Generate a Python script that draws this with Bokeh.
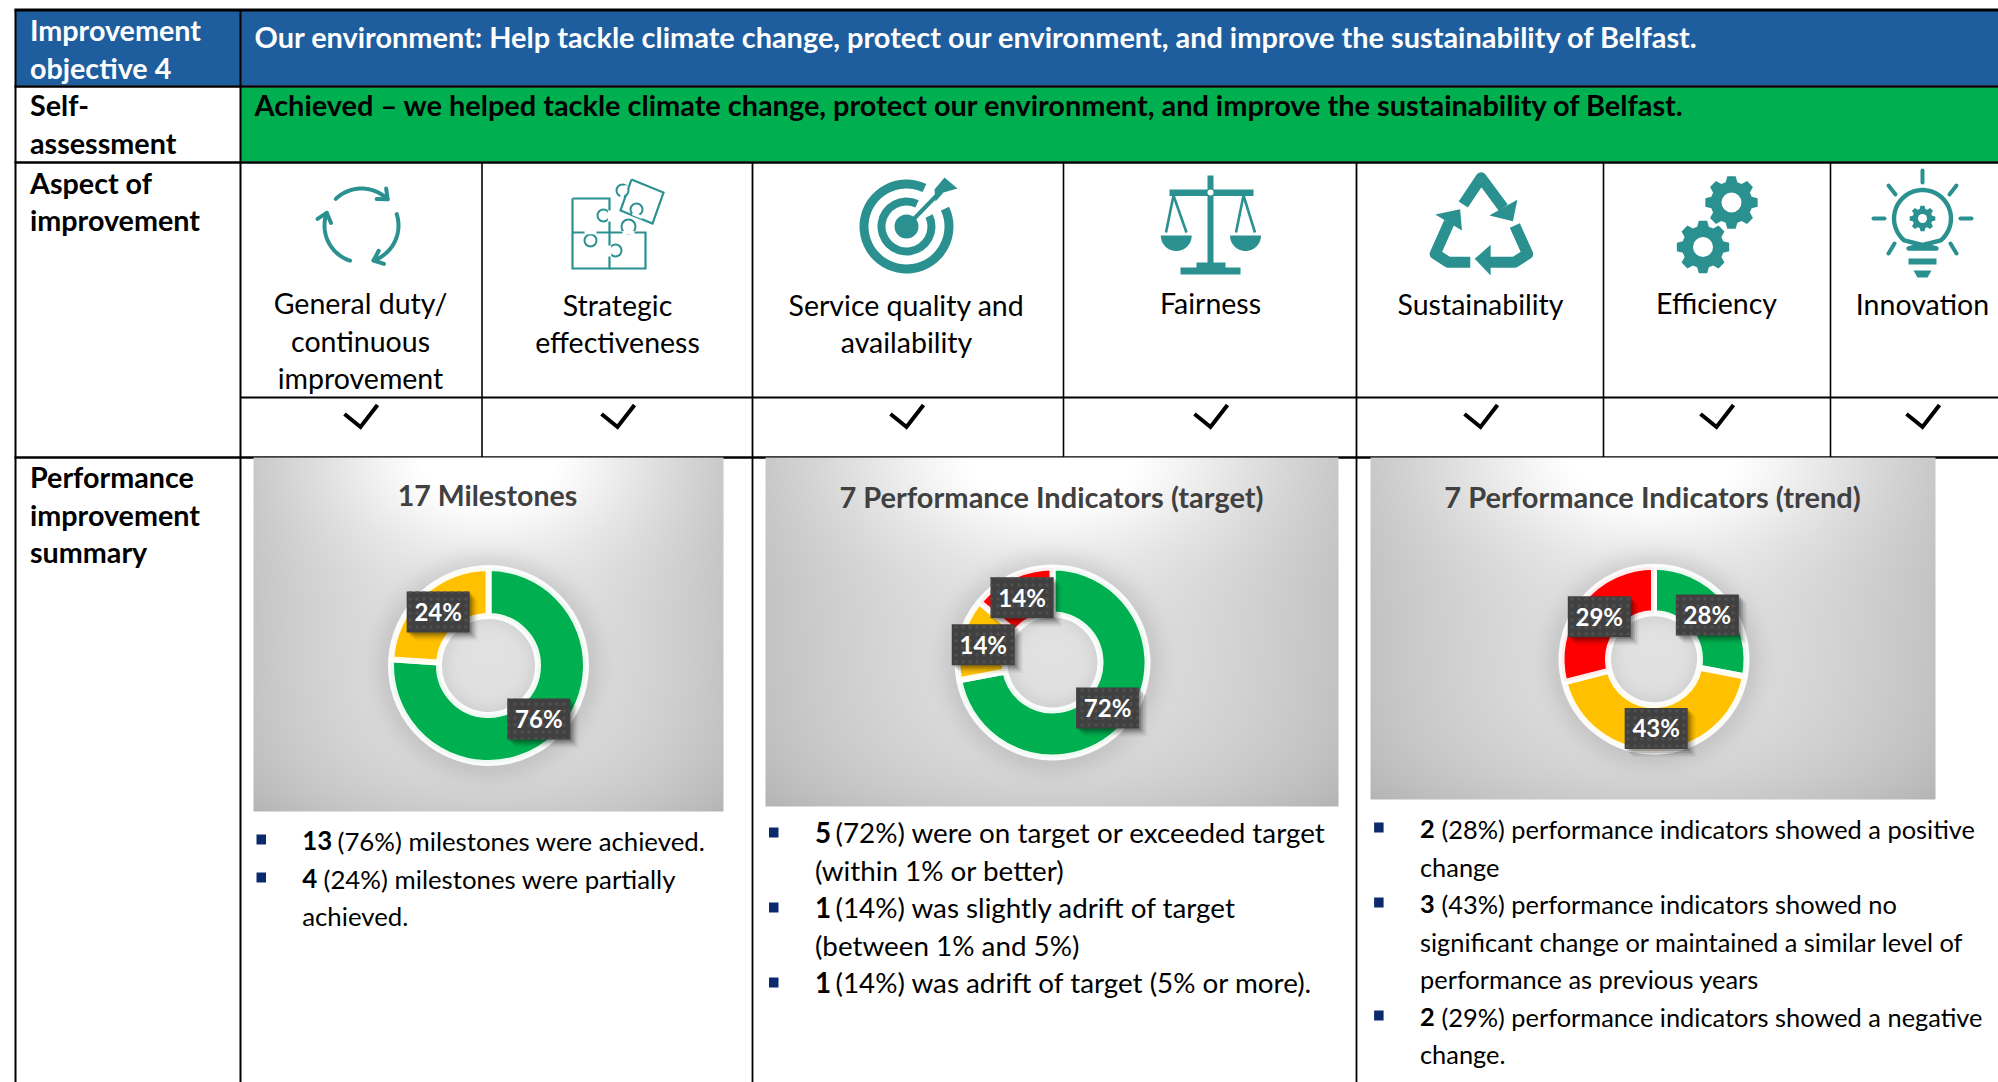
import numpy as np
from math import pi, sin, cos, radians
from bokeh.plotting import figure
from bokeh.models import Range1d
from bokeh.core.properties import value
from bokeh.embed import file_html
from bokeh.resources import INLINE

# ---------- chart content ----------
panel_titles = ["17 Milestones", "7 Performance Indicators (target)", "7 Performance Indicators (trend)"]
milestone_shares = [76, 24]
milestone_colors = ["#00B050", "#FFC000"]
target_shares = [72, 14, 14]
target_colors = ["#00B050", "#FFC000", "#FF0000"]
trend_shares = [28, 43, 29]
trend_colors = ["#00B050", "#FFC000", "#FF0000"]

head_left = ["Improvement", "objective 4"]
head_main = "Our environment: Help tackle climate change, protect our environment, and improve the sustainability of Belfast."
self_left = ["Self-", "assessment"]
self_main = "Achieved \u2013 we helped tackle climate change, protect our environment, and improve the sustainability of Belfast."
aspect_left = ["Aspect of", "improvement"]
perf_left = ["Performance", "improvement", "summary"]
aspects = [["General duty/", "continuous", "improvement"], ["Strategic", "effectiveness"],
           ["Service quality and", "availability"], ["Fairness"], ["Sustainability"], ["Efficiency"], ["Innovation"]]

bullets_1 = [("13", "(76%) milestones were achieved."), ("4", "(24%) milestones were partially"), ("", "achieved.")]
bullets_2 = [("5", "(72%) were on target or exceeded target"), ("", "(within 1% or better)"),
             ("1", "(14%) was slightly adrift of target"), ("", "(between 1% and 5%)"),
             ("1", "(14%) was adrift of target (5% or more).")]
bullets_3 = [("2", "(28%) performance indicators showed a positive"), ("", "change"),
             ("3", "(43%) performance indicators showed no"),
             ("", "significant change or maintained a similar level of"),
             ("", "performance as previous years"),
             ("2", "(29%) performance indicators showed a negative"), ("", "change.")]

# ---------- layout ----------
FULL_W, FULL_H = 1998, 1082
FONT = "Lato"
TEAL = "#2A9090"
BLUE = "#1F5E9E"
GREEN = "#00B050"
BLACK = "#000000"
DARK = "#404040"
BASE_FIX = 0.38

p = figure(width=FULL_W, height=FULL_H, output_backend="svg", toolbar_location=None,
           x_range=Range1d(0, FULL_W), y_range=Range1d(0, FULL_H),
           x_axis_type=None, y_axis_type=None, min_border=0, outline_line_color=None,
           background_fill_color="white", border_fill_color="white")


def Y(y):
    return FULL_H - y


def text(x, y, s, size, bold=False, color=BLACK, align="left", font=FONT):
    p.text(x=[x], y=[Y(y - BASE_FIX * size)], text=[s], text_font=value(font), text_font_size=f"{size}px",
           text_font_style="bold" if bold else "normal", text_color=color,
           text_align=align, text_baseline="alphabetic")


def box(x0, y0, x1, y1, color, alpha=1.0):
    p.quad(left=[x0], right=[x1], top=[Y(y0)], bottom=[Y(y1)], fill_color=color, fill_alpha=alpha, line_color=None)


def line(pts, width=2.0, color=BLACK, cap="butt", join="miter"):
    xs, ys = zip(*pts)
    p.line(x=list(xs), y=[Y(v) for v in ys], line_width=width, line_color=color, line_cap=cap, line_join=join)


def poly(pts, color=TEAL):
    xs, ys = zip(*pts)
    p.patch(x=list(xs), y=[Y(v) for v in ys], fill_color=color, line_color=None)


def polar(cx, cy, r, deg):
    a = radians(deg)
    return cx + r * sin(a), cy - r * cos(a)


# ---------- table ----------
box(15, 10, FULL_W, 85, BLUE)
box(240, 87, FULL_W, 161, GREEN)
for yy, w in [(9.5, 3), (86, 2.5), (162, 2.5), (397, 2), (457, 2.5)]:
    x0 = 240 if yy == 397 else 14
    line([(x0, yy), (FULL_W, yy)], w)
for xx in (15, 240):
    line([(xx, 9), (xx, FULL_H)], 2)
for xx in (481.5, 1063, 1603, 1830):
    line([(xx, 162), (xx, 457)], 1.6)
for xx in (752, 1356):
    line([(xx, 162), (xx, FULL_H)], 1.8)

LABEL = 28.7
text(29.5, 40, head_left[0], LABEL, True, "white")
text(29.5, 78, head_left[1], LABEL, True, "white")
text(254, 47, head_main, 28.9, True, "white")
text(29.5, 115, self_left[0], LABEL, True)
text(29.5, 153, self_left[1], LABEL, True)
text(254, 115, self_main, 28.9, True)
text(29.5, 193, aspect_left[0], LABEL, True)
text(29.5, 230, aspect_left[1], LABEL, True)
for s, b in zip(perf_left, (487, 525, 562)):
    text(29.5, b, s, LABEL, True)

col_x = [360, 617, 906, 1210, 1480, 1716, 1922]
col_base = [[313, 351, 388], [315, 352], [315, 352], [313], [314], [313], [314]]
for cx, lines_, bases in zip(col_x, aspects, col_base):
    for s, b in zip(lines_, bases):
        text(cx, b, s, 28.5, False, BLACK, "center")
    line([(cx - 16, 413.5), (cx, 426.5), (cx + 17, 404.5)], 4, BLACK, join="miter")

# ---------- icons ----------
# cycle
cx, cy, r = 361, 225, 37
for a, b in [(-44, 42), (72, 158), (198, 287)]:
    pts = [polar(cx, cy, r, t) for t in np.linspace(a, b, 24)]
    line(pts, 4, TEAL, "round", "round")
    tip = polar(cx, cy, r, b + 3)
    for off in (140, -140):
        ang = b + 90 + off
        end = (tip[0] + 11 * sin(radians(ang)), tip[1] - 11 * cos(radians(ang)))
        line([tip, end], 4, TEAL, "round")

# puzzle
for seg in [[(572, 198), (609, 198), (609, 268), (572, 268), (572, 198)],
            [(572, 232), (645, 232), (645, 268), (609, 268)],
            [(631, 179), (663, 192), (652, 223), (620, 210), (631, 179)]]:
    line(seg, 2.2, TEAL)
for tx, ty, tr in [(603, 215, 6), (590, 240, 6), (615, 250, 6), (628, 226, 7), (622, 190, 6), (636, 209, 6)]:
    p.circle(x=[tx], y=[Y(ty)], radius=tr, fill_color="white", line_color=TEAL, line_width=2)
for seg in [[(609, 210), (609, 221)], [(584, 232), (596, 232)], [(609, 245), (609, 256)], [(622, 232), (634, 232)],
            [(626, 185), (621, 197)], [(632, 213), (642, 217)]]:
    line(seg, 3.5, "white")

# target
cx, cy = 906, 226
for R0, R1 in [(38, 47), (21, 29)]:
    p.annular_wedge(x=[cx], y=[Y(cy)], inner_radius=R0, outer_radius=R1,
                    start_angle=[pi / 2 - radians(385)], end_angle=[pi / 2 - radians(65)],
                    direction="anticlock", fill_color=TEAL, line_color=None)
p.circle(x=[cx], y=[Y(cy)], radius=12, fill_color=TEAL, line_color=None)
line([(cx, cy), (940, 191)], 4, TEAL)
poly([(944, 177), (957, 188), (943, 192), (935, 201), (934, 189)])

# scales
cx = 1210
box(cx - 3, 175, cx + 3, 265, TEAL)
box(1169, 189, 1253, 195.5, TEAL)
p.circle(x=[cx], y=[Y(192)], radius=3, fill_color="white", line_color=None)
box(1196, 262, 1225, 268, TEAL)
box(1180, 267, 1240, 274, TEAL)
for top, lo, hi in [(1173, 1165.5, 1186), (1243, 1235.5, 1254.5)]:
    line([(top, 195), (lo, 232)], 2.6, TEAL)
    line([(top, 195), (hi, 232)], 2.6, TEAL)
    mid = (lo + hi) / 2
    pts = [polar(mid, 235, 15.5, t) for t in np.linspace(90, 270, 20)]
    poly(pts)


# recycle
def Z(x, y):
    return 1000 + x / 1.571, y / 3


for seg, tri in [([(727, 612), (755, 532), (790, 622)], [(812, 598), (768, 645), (805, 662)]),
                 ([(705, 665), (683, 760), (703, 785), (738, 785)], [(722, 626), (683, 642), (725, 690)]),
                 ([(808, 675), (828, 760), (808, 785), (760, 785)], [(770, 825), (770, 733), (745, 775)])]:
    line([Z(*q) for q in seg], 11, TEAL, "butt", "round")
    poly([Z(*q) for q in tri])


# gears
def gear(cx, cy, Ro, Ri, hole, teeth=8):
    pts = []
    step = 360 / teeth
    for k in range(teeth):
        base = k * step
        pts += [polar(cx, cy, Ri, base - step * 0.36), polar(cx, cy, Ro, base - step * 0.2),
                polar(cx, cy, Ro, base + step * 0.2), polar(cx, cy, Ri, base + step * 0.36)]
    poly(pts)
    p.circle(x=[cx], y=[Y(cy)], radius=hole, fill_color="white", line_color=None)


gear(1731, 202, 26.5, 21, 10)
gear(1702.5, 246.5, 26.5, 21, 10)

# bulb
cx, cy = 1922, 218
arc = [polar(cx, cy, 28.5, t) for t in np.linspace(-140, 140, 36)]
line([(cx + 14, 248)] + arc + [(cx - 14, 248), (cx + 14, 248)], 4.4, TEAL, "round", "round")
gear(cx, cy, 13, 10, 4.5)
box(cx - 14, 258, cx + 14, 264, TEAL)
poly([(cx - 9, 270), (cx + 9, 270), (cx + 5, 277), (cx - 5, 277)])
for seg in [[(cx, 170), (cx, 182)], [(1873, cy), (1884, cy)], [(1960, cy), (1971, cy)],
            [(1888, 185), (1895, 194)], [(1956, 185), (1949, 194)],
            [(1888, 253), (1894, 243)], [(1956, 253), (1950, 243)]]:
    line(seg, 4, TEAL, "round")

# ---------- donut panels ----------
panels = [
    dict(shares=milestone_shares, colors=milestone_colors, frame=(253, 457, 723, 811), c=(488, 665), R=97.5, r=49.5,
         title_x=487, title_y=505, title_size=28.5),
    dict(shares=target_shares, colors=target_colors, frame=(765, 457, 1338, 806), c=(1052, 662), R=95, r=48,
         title_x=1051, title_y=507, title_size=29),
    dict(shares=trend_shares, colors=trend_colors, frame=(1370, 457, 1935, 799), c=(1653.5, 658.7), R=92.5, r=46,
         title_x=1652, title_y=507, title_size=29),
]


def panel_background(frame, c, R, r):
    x0, y0, x1, y1 = frame
    w, h = int(x1 - x0), int(y1 - y0)
    gx, gy = np.meshgrid(np.arange(w) + x0 + 0.5, np.arange(h) + y0 + 0.5)
    xn = (gx - (x0 + x1) / 2) / (w / 2)
    yn = (gy - y0) / h
    d = np.hypot(gx - c[0], gy - c[1])
    glow = np.exp(-(xn / 0.72) ** 2 - (yn / 0.26) ** 2)
    v = 208 + 50 * glow + 17 * np.exp(-(d / 190) ** 2)
    v -= 15 * np.abs(xn) ** 3 + 14 * yn ** 8
    v -= 20 * np.exp(-((d - R) / 17) ** 2)
    v -= 12 * np.exp(-((d - r) / 11) ** 2)
    v = np.clip(v, 0, 255).astype(np.uint8)
    img = np.empty((h, w), dtype=np.uint32)
    view = img.view(np.uint8).reshape((h, w, 4))
    view[..., 0] = view[..., 1] = view[..., 2] = v
    view[..., 3] = 255
    return img[::-1]


for panel, title, in zip(panels, panel_titles):
    x0, y0, x1, y1 = panel["frame"]
    cx, cy = panel["c"]
    R, r = panel["R"], panel["r"]
    p.image_rgba(image=[panel_background(panel["frame"], panel["c"], R, r)], x=[x0], y=[Y(y1)],
                 dw=[x1 - x0], dh=[y1 - y0])
    text(panel["title_x"], panel["title_y"], title, panel["title_size"], True, DARK, "center")

    total = sum(panel["shares"])
    edges = np.cumsum([0] + panel["shares"]) / total * 360
    for a, b, col in zip(edges[:-1], edges[1:], panel["colors"]):
        p.annular_wedge(x=[cx], y=[Y(cy)], inner_radius=r, outer_radius=R,
                        start_angle=[radians(90 - b)], end_angle=[radians(90 - a)],
                        fill_color=col, line_color="white", line_width=6, line_alpha=0.93)
    for share, a, b in zip(panel["shares"], edges[:-1], edges[1:]):
        lx, ly = polar(cx, cy, (R + r) / 2, (a + b) / 2)
        for k, al in [(8, 0.05), (6, 0.09), (4, 0.14), (2, 0.18)]:
            box(lx - 31.5 + k, ly - 20.5 + k, lx + 31.5 + k, ly + 20.5 + k, "#000000", al)
        p.rect(x=[lx], y=[Y(ly)], width=63, height=41, fill_color=DARK, line_color=None,
               hatch_pattern="dot", hatch_color="#4f4f4f", hatch_scale=7, hatch_weight=1)
        text(lx, ly + 8.5, f"{share}%", 24, True, "white", "center")

# ---------- bullets ----------
NAVY = "#0B2A6E"


def bullets(rows, bases, text_x, run_x, bullet_x, size):
    for (strong, rest), b in zip(rows, bases):
        if strong:
            box(bullet_x, b - 16, bullet_x + 9.5, b - 6, NAVY)
            text(text_x, b, strong, size, True)
            text(run_x[strong], b, rest, size)
        else:
            text(text_x, b, rest, size)


bullets(bullets_1, [850, 888, 925], 301.7, {"13": 337, "4": 323}, 256, 25.8)
bullets(bullets_2, [843, 881, 918, 956, 993], 814.4, {"5": 835, "1": 835}, 768.5, 27.8)
bullets(bullets_3, [838, 876, 913, 951, 988, 1026, 1063], 1419.5, {"2": 1441, "3": 1441}, 1373.6, 25.4)

open("out.html", "w").write(file_html(p, INLINE))
